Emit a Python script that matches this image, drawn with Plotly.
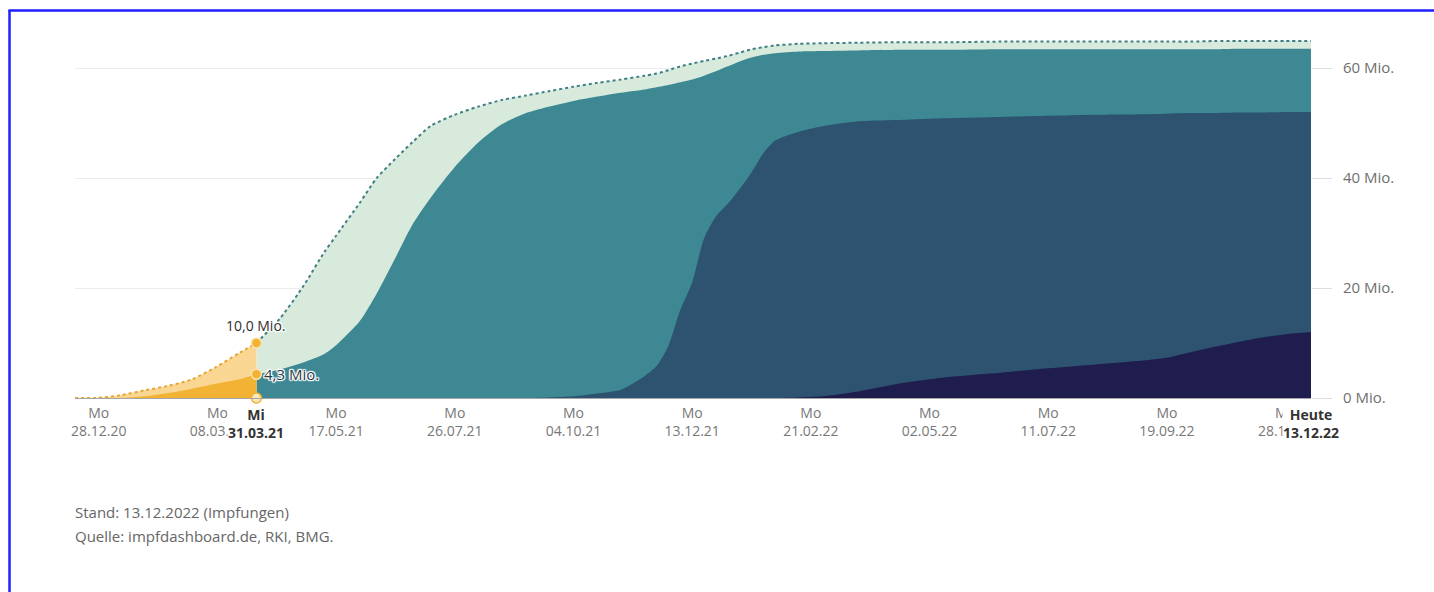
import plotly.graph_objects as go

# Cumulative vaccinations in Germany (millions)
dates = [
    "2020-12-14", "2020-12-27", "2021-01-10", "2021-01-24", "2021-02-07", "2021-02-21",
    "2021-03-07", "2021-03-21", "2021-03-31", "2021-04-14", "2021-04-28", "2021-05-10",
    "2021-05-17", "2021-05-31", "2021-06-10", "2021-06-21", "2021-07-01", "2021-07-12",
    "2021-07-26", "2021-08-09", "2021-08-23", "2021-09-06", "2021-09-20", "2021-10-04",
    "2021-10-18", "2021-11-01", "2021-11-15", "2021-11-22", "2021-11-29", "2021-12-06",
    "2021-12-13", "2021-12-20", "2021-12-27", "2022-01-03", "2022-01-10", "2022-01-17",
    "2022-01-24", "2022-01-31", "2022-02-14", "2022-02-28", "2022-03-21", "2022-04-18",
    "2022-05-16", "2022-06-13", "2022-07-11", "2022-08-08", "2022-09-05", "2022-09-19",
    "2022-10-03", "2022-10-17", "2022-10-31", "2022-11-14", "2022-11-28", "2022-12-13",
]
first_dose = [
    0.0, 0.02, 0.5, 1.4, 2.2, 3.4,
    5.6, 8.2, 10.0, 14.5, 20.5, 26.5,
    29.5, 35.5, 40.0, 43.5, 46.5, 49.5,
    51.5, 53.0, 54.2, 55.0, 55.8, 56.6,
    57.3, 57.9, 58.6, 59.0, 59.6, 60.3,
    60.8, 61.3, 61.7, 62.2, 62.8, 63.4,
    63.8, 64.1, 64.4, 64.5, 64.6, 64.7,
    64.7, 64.8, 64.8, 64.8, 64.8, 64.8,
    64.8, 64.9, 64.9, 64.9, 64.9, 64.9,
]
fully_vaccinated = [
    0.0, 0.0, 0.0, 0.3, 0.9, 1.7,
    2.6, 3.4, 4.3, 5.2, 6.5, 8.0,
    9.6, 14.0, 19.0, 25.5, 31.5, 36.5,
    42.0, 46.5, 49.8, 51.8, 53.0, 54.0,
    54.8, 55.5, 56.1, 56.5, 56.9, 57.4,
    57.9, 58.6, 59.4, 60.3, 61.2, 61.9,
    62.4, 62.7, 63.0, 63.1, 63.2, 63.3,
    63.3, 63.4, 63.4, 63.4, 63.4, 63.4,
    63.4, 63.4, 63.5, 63.5, 63.5, 63.5,
]
booster_1 = [
    0, 0, 0, 0, 0, 0,
    0, 0, 0, 0, 0, 0,
    0, 0, 0, 0, 0, 0,
    0, 0, 0, 0.0, 0.1, 0.3,
    0.8, 1.5, 4.0, 5.8, 9.5, 16.0,
    21.0, 29.0, 33.0, 35.3, 38.0, 41.0,
    44.5, 46.8, 48.4, 49.4, 50.3, 50.6,
    50.9, 51.1, 51.3, 51.5, 51.6, 51.7,
    51.8, 51.8, 51.9, 51.9, 52.0, 52.0,
]
booster_2 = [
    0, 0, 0, 0, 0, 0,
    0, 0, 0, 0, 0, 0,
    0, 0, 0, 0, 0, 0,
    0, 0, 0, 0, 0, 0,
    0, 0, 0, 0, 0, 0,
    0, 0, 0, 0, 0, 0,
    0, 0.0, 0.1, 0.3, 1.2, 2.8,
    3.9, 4.6, 5.4, 6.1, 6.8, 7.3,
    8.3, 9.3, 10.2, 11.0, 11.6, 12.0,
]

tick_dates = ["2020-12-28", "2021-03-08", "2021-05-17", "2021-07-26", "2021-10-04",
              "2021-12-13", "2022-02-21", "2022-05-02", "2022-07-11", "2022-09-19",
              "2022-11-28"]
tick_labels = ["Mo<br>28.12.20", "Mo<br>08.03.21", "Mo<br>17.05.21", "Mo<br>26.07.21",
               "Mo<br>04.10.21", "Mo<br>13.12.21", "Mo<br>21.02.22", "Mo<br>02.05.22",
               "Mo<br>11.07.22", "Mo<br>19.09.22", "Mo<br>28.11.22"]
y_ticks = [0, 20, 40, 60]
y_labels = ["0 Mio.", "20 Mio.", "40 Mio.", "60 Mio."]

switch_date = "2021-03-31"
today = "2022-12-13"

C_ORANGE_LIGHT = "#f9d792"
C_ORANGE = "#f2b233"
C_GREEN_LIGHT = "#d7eadb"
C_TEAL = "#3d8892"
C_BLUE = "#2d5371"
C_NAVY = "#1e1d4d"

cut = dates.index(switch_date)
pre = slice(0, cut + 1)
post = slice(cut, len(dates))

FONT = "Open Sans"
fig = go.Figure()


def area(x, y, color):
    fig.add_trace(go.Scatter(
        x=x, y=y, mode="lines", fill="tozeroy", fillcolor=color,
        line=dict(width=0, color=color, shape="spline", smoothing=0.7),
        hoverinfo="skip", showlegend=False,
    ))


area(dates[post], first_dose[post], C_GREEN_LIGHT)
area(dates[post], fully_vaccinated[post], C_TEAL)
area(dates[post], booster_1[post], C_BLUE)
area(dates[post], booster_2[post], C_NAVY)
area(dates[pre], first_dose[pre], C_ORANGE_LIGHT)
area(dates[pre], fully_vaccinated[pre], C_ORANGE)

# dotted outline of "at least one dose"
fig.add_trace(go.Scatter(
    x=dates[pre], y=first_dose[pre], mode="lines",
    line=dict(color="#e6a531", width=2, dash="dot", shape="spline", smoothing=0.7),
    hoverinfo="skip", showlegend=False,
))
fig.add_trace(go.Scatter(
    x=dates[post], y=first_dose[post], mode="lines",
    line=dict(color="#3f7f84", width=2, dash="dot", shape="spline", smoothing=0.7),
    hoverinfo="skip", showlegend=False,
))

# markers at the switch date
v_first = first_dose[cut]
v_full = fully_vaccinated[cut]
fig.add_trace(go.Scatter(
    x=[switch_date, switch_date], y=[v_first, v_full], mode="markers",
    marker=dict(size=10, color=C_ORANGE, line=dict(color="#fbe3ad", width=1.5)),
    hoverinfo="skip", showlegend=False, cliponaxis=False,
))
fig.add_trace(go.Scatter(
    x=[switch_date], y=[0], mode="markers",
    marker=dict(size=10, color="#fbe7bd", line=dict(color=C_ORANGE, width=1.5)),
    hoverinfo="skip", showlegend=False, cliponaxis=False,
))

halo = ("white 1px 0px 1px, white -1px 0px 1px, white 0px 1px 1px, white 0px -1px 1px, "
        "white 1px 1px 1px, white -1px -1px 1px, white 1px -1px 1px, white -1px 1px 1px")
fig.add_annotation(
    x=switch_date, y=v_first, text=f"{v_first:.1f}".replace(".", ",") + " Mio.",
    showarrow=False, xanchor="center", yanchor="bottom", yshift=6,
    font=dict(family=FONT, size=14, color="#2e2e2e", shadow=halo),
)
fig.add_annotation(
    x=switch_date, y=v_full, text=f"{v_full:.1f}".replace(".", ",") + " Mio.",
    showarrow=False, xanchor="left", yanchor="middle", xshift=6,
    font=dict(family=FONT, size=15, color="#2e3b4a", shadow=halo),
)

# highlighted date labels on the x axis
for d, t in [(switch_date, "Mi<br>31.03.21"), (today, "Heute<br>13.12.22")]:
    fig.add_annotation(
        x=d, y=0, yref="paper", text=f"<b>{t}</b>", showarrow=False,
        xanchor="center", yanchor="top", yshift=-6, bgcolor="white", borderpad=0,
        font=dict(family=FONT, size=14, color="#333333"),
    )

# blue frame on the left and top edges
W, H = 1434, 592
L, R, T, B = 75, 123, 35, 194
pw, ph = W - L - R, H - T - B


def px(xp):
    return (xp - L) / pw


def py(yp):
    return (H - B - yp) / ph


# footnote
for yp, t in [(512, "Stand: 13.12.2022 (Impfungen)"),
              (536, "Quelle: impfdashboard.de, RKI, BMG.")]:
    fig.add_annotation(
        x=0, y=py(yp), xref="paper", yref="paper", text=t, showarrow=False,
        xanchor="left", yanchor="middle", xshift=-2,
        font=dict(family=FONT, size=15, color="#666666"),
    )

fig.add_shape(type="line", xref="paper", yref="paper", x0=px(9.5), x1=px(9.5),
              y0=py(10), y1=py(H + 5), line=dict(color="#1f1fff", width=2.5))
fig.add_shape(type="line", xref="paper", yref="paper", x0=px(8.5), x1=px(W + 5),
              y0=py(10.5), y1=py(10.5), line=dict(color="#1f1fff", width=2.5))

fig.update_layout(
    width=W, height=H,
    margin=dict(l=L, r=R, t=T, b=B),
    paper_bgcolor="white", plot_bgcolor="white",
    font=dict(family=FONT),
    xaxis=dict(
        type="date", range=["2020-12-14", today],
        tickvals=tick_dates, ticktext=tick_labels,
        tickfont=dict(family=FONT, size=14, color="#777777"),
        showgrid=False, zeroline=False,
        showline=True, linecolor="#a5a5a5", linewidth=1,
        ticks="", ticklabelstandoff=2, fixedrange=True,
    ),
    yaxis=dict(
        side="right", range=[0, 66],
        tickvals=y_ticks, ticktext=y_labels,
        tickfont=dict(family=FONT, size=15, color="#6f6f6f"),
        showgrid=True, gridcolor="#ececec", gridwidth=1,
        zeroline=False, showline=False,
        ticks="outside", ticklen=20, tickcolor="#dedede", tickwidth=1,
        ticklabelstandoff=8, fixedrange=True,
    ),
)

fig.write_html("out.html")
